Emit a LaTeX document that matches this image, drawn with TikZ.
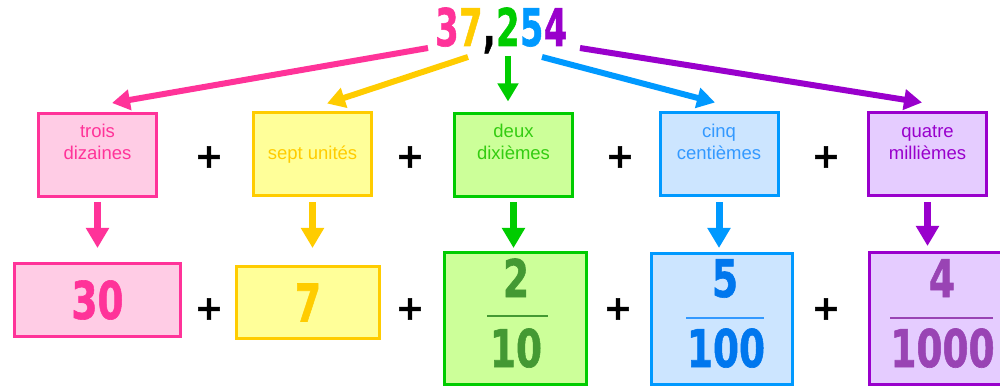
\documentclass[tikz,border=0pt]{standalone}
\usepackage{fontspec}
\setmainfont{Liberation Sans}
\newfontfamily\numfont[FakeBold=1.2]{DejaVu Sans Condensed Bold}
\newfontfamily\plusfont[FakeBold=1.5]{DejaVu Sans Bold}
\newcommand\nb[1]{\scalebox{0.8}[1]{#1}}
\newcommand\nt[1]{\scalebox{0.72}[1]{#1}}
\usetikzlibrary{arrows.meta}
\definecolor{pk}{HTML}{FF3399}\definecolor{pkf}{HTML}{FFCCE5}
\definecolor{ye}{HTML}{FFCC00}\definecolor{yef}{HTML}{FFFF99}
\definecolor{gr}{HTML}{00CC00}\definecolor{grf}{HTML}{CCFF99}\definecolor{grt}{HTML}{33CC11}\definecolor{grn}{HTML}{449933}
\definecolor{bl}{HTML}{0099FF}\definecolor{blf}{HTML}{CCE5FF}\definecolor{blt}{HTML}{3399FF}\definecolor{bln}{HTML}{0077EE}
\definecolor{pu}{HTML}{9900CC}\definecolor{puf}{HTML}{E5CCFF}\definecolor{pun}{HTML}{9944B4}
\begin{document}
\begin{tikzpicture}[x=1pt,y=-1pt,
  box/.style={draw, line width=3pt, inner sep=0pt, rectangle},
  topbox/.style={box, minimum width=118pt, minimum height=83pt},
  lbl/.style={font=\fontsize{18.5}{21}\selectfont, inner sep=0pt, anchor=base},
  big/.style={font=\numfont\fontsize{52}{52}\selectfont, inner sep=0pt},
  plussign/.style={font=\plusfont\fontsize{34}{34}\selectfont, inner sep=0pt, text=black},
  arr/.style={line width=6pt, -{Triangle[length=18pt,width=20pt]}},
  darr/.style={line width=7pt, -{Triangle[length=20pt,width=22pt]}},
  fracline/.style={line width=2.5pt}
]
\clip (0,0) rectangle (1000,387);
\fill[white] (0,0) rectangle (1000,387);

% top number
\node[big, text=pk, anchor=base west] (d3) at (435,46) {\nt{3}};
\node[big, text=ye, anchor=base west] (d7) at (d3.base east) {\nt{7}};
\node[big, text=black, anchor=base west] (dc) at (d7.base east) {\nt{,}};
\node[big, text=gr, anchor=base west] (d2) at (dc.base east) {\nt{2}};
\node[big, text=bl, anchor=base west] (d5) at (d2.base east) {\nt{5}};
\node[big, text=pu, anchor=base west] (d4) at (d5.base east) {\nt{4}};

\coordinate (s3) at (428,48);
\coordinate (s7) at (468,57);
\coordinate (s2) at (508,56);
\coordinate (s5) at (542,57);
\coordinate (s4) at (580,48);

% top boxes
\node[topbox, draw=pk, fill=pkf] (t1) at (97.5,155) {};
\node[topbox, draw=ye, fill=yef] (t2) at (312.5,154.5) {};
\node[topbox, draw=gr, fill=grf] (t3) at (513.5,155.5) {};
\node[topbox, draw=bl, fill=blf] (t4) at (719,154.5) {};
\node[topbox, draw=pu, fill=puf] (t5) at (927.5,154.5) {};

\node[lbl, text=pk] at (97.5,138) {trois};
\node[lbl, text=pk] at (97.5,159.5) {dizaines};
\node[lbl, text=ye] at (312.5,160) {sept unités};
\node[lbl, text=grt] at (513.5,138) {deux};
\node[lbl, text=grt] at (513.5,159.5) {dixièmes};
\node[lbl, text=blt] at (719,138) {cinq};
\node[lbl, text=blt] at (719,159.5) {centièmes};
\node[lbl, text=pu] at (927.5,138) {quatre};
\node[lbl, text=pu] at (927.5,159.5) {millièmes};

% plus signs
\foreach \x/\n in {209/a,410/b,620/c,826/d} \node[plussign] (pu\n) at (\x,157) {+};
\foreach \x/\n in {209/a,410/b,618/c,826/d} \node[plussign] (pl\n) at (\x,309) {+};

% bottom boxes
\node[box, draw=pk, fill=pkf, minimum width=166pt, minimum height=73pt, text=pk, font=\numfont\fontsize{52}{52}\selectfont] (b1) at (97.5,300) {\nb{30}};
\node[box, draw=ye, fill=yef, minimum width=143pt, minimum height=72pt, text=ye, font=\numfont\fontsize{52}{52}\selectfont] (b2) at (308,302.5) {\nb{7}};
\node[box, draw=gr, fill=grf, minimum width=142pt, minimum height=132pt] (b3) at (515.5,318.5) {};
\node[box, draw=bl, fill=blf, minimum width=141pt, minimum height=131pt] (b4) at (722,319) {};
\node[box, draw=pu, fill=puf, minimum width=150pt, minimum height=132pt] (b5) at (944.5,318.5) {};

% fractions
\node[big, text=grn, anchor=base] (n3) at (516,297) {\nb{2}};
\node[big, text=grn, anchor=base] (m3) at (516,367) {\nb{10}};
\draw[fracline, grn] (487,316) -- (548,316);
\node[big, text=bln, anchor=base] (n4) at (725,297) {\nb{5}};
\node[big, text=bln, anchor=base] (m4) at (726,367) {\nb{100}};
\draw[fracline, blt, line width=2pt] (686,318) -- (764,318);
\node[big, text=pun, anchor=base] (n5) at (942,297) {\nb{4}};
\node[big, text=pun, anchor=base] (m5) at (942.5,367) {\nb{1000}};
\draw[fracline, pun, line width=2pt] (890,318) -- (993,318);

% top arrows
\draw[arr, pk] (s3) -- ([xshift=14.5pt,yshift=9pt]t1.north);
\draw[arr, ye] (s7) -- ([xshift=14.5pt,yshift=8pt]t2.north);
\draw[arr, gr] (s2) -- ([xshift=-5.5pt,yshift=11pt]t3.north);
\draw[arr, bl] (s5) -- ([xshift=-4pt,yshift=9pt]t4.north);
\draw[arr, pu] (s4) -- ([xshift=-5.5pt,yshift=9pt]t5.north);

% down arrows
\draw[darr, pk, shorten <=4pt, shorten >=14pt] (t1.south) -- (t1.south |- b1.north);
\draw[darr, ye, shorten <=5pt, shorten >=17pt] (t2.south) -- (t2.south |- b2.north);
\draw[darr, gr, shorten <=4pt, shorten >=3pt] (t3.south) -- (t3.south |- b3.north);
\draw[darr, bl, shorten <=5pt, shorten >=4pt] (t4.south) -- (t4.south |- b4.north);
\draw[darr, pu, shorten <=5pt, shorten >=5pt] (t5.south) -- (t5.south |- b5.north);
\end{tikzpicture}
\end{document}
